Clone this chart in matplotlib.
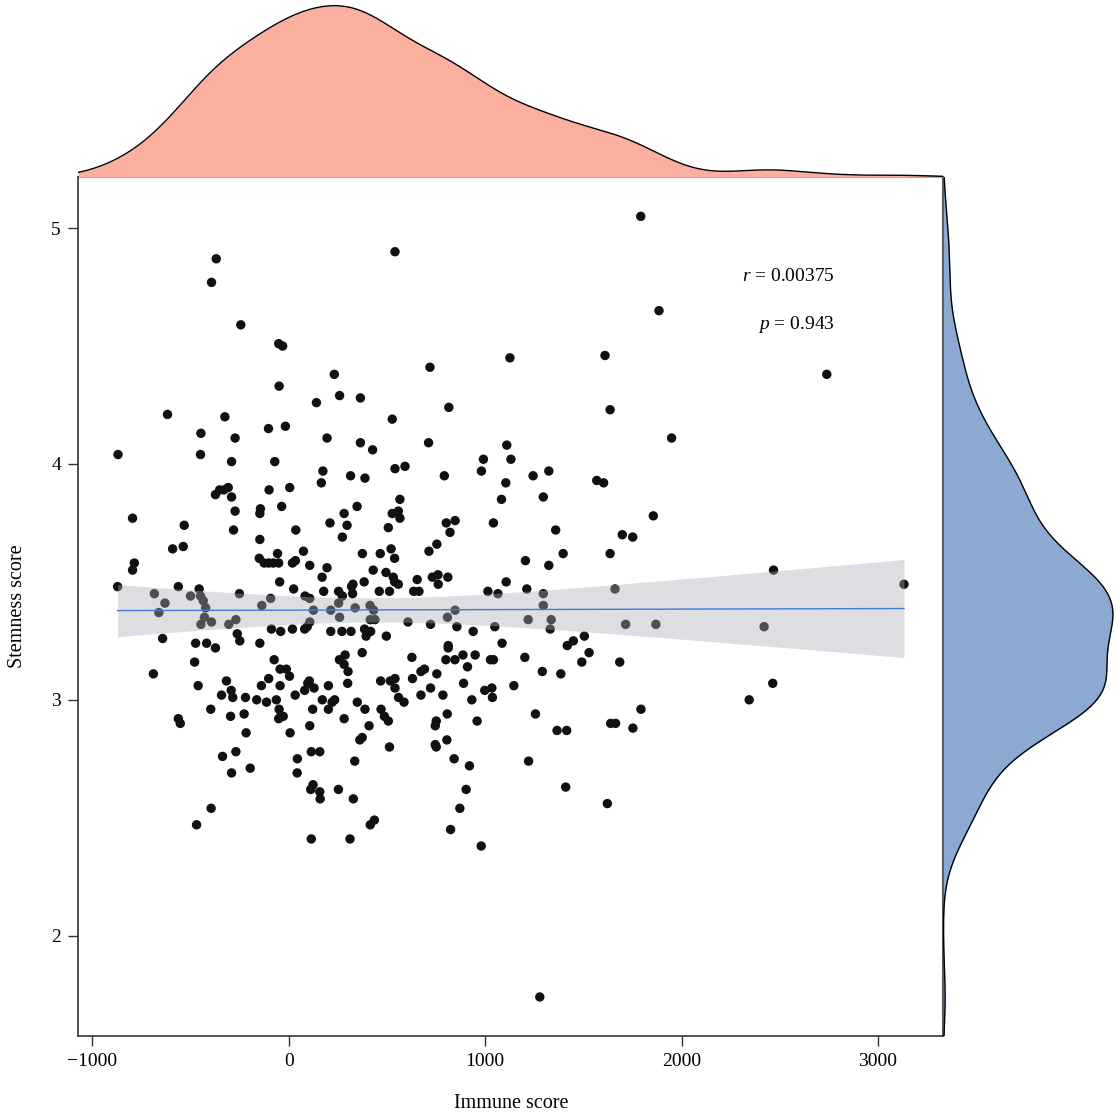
import numpy as np
import matplotlib
matplotlib.use("Agg")
import matplotlib.pyplot as plt

# ---- data ----
immune_score = [
    -369, -393, -244, -51, -31, 232, -49, 141, 259, 365,
    -617, -325, -447, -273, -103, -17, 195, 365, -869, -449,
    -291, -71, 174, 541, 1792, 1885, 1126, 1610, 719, 815,
    527, 1636, 427, 712, 1110, 991, 1131, 541, 592, 981,
    1324, 2739, 1949, 315, 388, 166, -373, -352, -330, -308,
    -291, -100, 5, -273, -144, -147, -36, 282, 348, 210,
    297, -795, -532, -281, 36, 273, -147, -591, -537, 75,
    375, -786, -795, -150, -125, -102, -79, -57, -51, 19,
    34, 107, 195, 430, -46, 170, 327, 320, 384, -871,
    -562, -456, 25, 178, 254, 273, 325, -684, -500, -449,
    -435, -251, -92, -137, 83, 107, -423, -630, -661, 126,
    214, 254, 338, 414, -429, -393, -447, -305, -269, 259,
    415, 107, 94, -88, -41, 19, 81, 214, 271, 317,
    386, 394, 417, -642, -262, -249, -474, -418, -373, -147,
    374, -479, -74, 287, 258, 282, 302, -689, -44, -12,
    4, -102, -317, -461, -139, -44, 105, 97, 129, 81,
    202, 300, -293, -285, -342, -220, -163, -113, -63, 33,
    171, 234, 221, 202, 349, -49, -41, -28, -51, -397,
    -227, -296, 122, 388, 282, -562, -552, 107, 409, 7,
    -217, 374, 362, -269, -337, 44, 115, 158, 336, -291,
    -196, 43, 124, 112, 158, 160, 253, 329, -395, -469,
    415, 436, 115, 312, 792, 1105, 1244, 1568, 1603, 566,
    527, 558, 566, 507, 1083, 1296, 802, 847, 821, 1042,
    1359, 1856, 1698, 1751, 466, 521, 539, 714, 754, 1205,
    1324, 1397, 1636, 495, 532, 539, 558, 654, 731, 760,
    761, 810, 1107, 461, 513, 636, 663, 1014, 1065, 1212,
    1296, 1296, 1661, 432, 847, 808, 439, 607, 722, 856,
    939, 1049, 1219, 1336, 1331, 1715, 1869, 497, 812, 812,
    1086, 1418, 1449, 1505, 1529, 627, 800, 846, 887, 949,
    1027, 1042, 1202, 910, 1492, 1685, 673, 691, 754, 1291,
    1385, 468, 517, 541, 541, 559, 587, 630, 890, 1146,
    722, 673, 785, 998, 1034, 1037, 932, 470, 487, 507,
    807, 1256, 1793, 751, 746, 959, 1639, 1664, 1752, 1366,
    1415, 513, 746, 751, 805, 842, 1221, 920, 903, 1410,
    1622, 871, 824, 980, 1278, 2468, 3132, 2420, 2464, 2344,
]
stemness_score = [
    4.87, 4.77, 4.59, 4.51, 4.50, 4.38, 4.33, 4.26, 4.29, 4.28,
    4.21, 4.20, 4.13, 4.11, 4.15, 4.16, 4.11, 4.09, 4.04, 4.04,
    4.01, 4.01, 3.97, 4.90, 5.05, 4.65, 4.45, 4.46, 4.41, 4.24,
    4.19, 4.23, 4.06, 4.09, 4.08, 4.02, 4.02, 3.98, 3.99, 3.97,
    3.97, 4.38, 4.11, 3.95, 3.94, 3.92, 3.87, 3.89, 3.89, 3.90,
    3.86, 3.89, 3.90, 3.80, 3.81, 3.79, 3.82, 3.79, 3.82, 3.75,
    3.74, 3.77, 3.74, 3.72, 3.72, 3.69, 3.68, 3.64, 3.65, 3.63,
    3.62, 3.58, 3.55, 3.60, 3.58, 3.58, 3.58, 3.62, 3.58, 3.58,
    3.59, 3.57, 3.56, 3.55, 3.50, 3.52, 3.49, 3.48, 3.50, 3.48,
    3.48, 3.47, 3.47, 3.46, 3.46, 3.44, 3.45, 3.45, 3.44, 3.44,
    3.42, 3.45, 3.43, 3.40, 3.44, 3.43, 3.39, 3.41, 3.37, 3.38,
    3.38, 3.41, 3.39, 3.40, 3.35, 3.33, 3.32, 3.32, 3.34, 3.35,
    3.34, 3.33, 3.31, 3.30, 3.29, 3.30, 3.30, 3.29, 3.29, 3.29,
    3.30, 3.27, 3.29, 3.26, 3.28, 3.25, 3.24, 3.24, 3.22, 3.24,
    3.20, 3.16, 3.17, 3.19, 3.17, 3.15, 3.12, 3.11, 3.13, 3.13,
    3.10, 3.09, 3.08, 3.06, 3.06, 3.06, 3.08, 3.07, 3.05, 3.04,
    3.06, 3.07, 3.04, 3.01, 3.02, 3.01, 3.00, 2.99, 3.00, 3.02,
    3.00, 3.00, 2.99, 2.96, 2.99, 2.96, 2.93, 2.93, 2.92, 2.96,
    2.94, 2.93, 2.96, 2.96, 2.92, 2.92, 2.90, 2.89, 2.89, 2.86,
    2.86, 2.84, 2.83, 2.78, 2.76, 2.75, 2.78, 2.78, 2.74, 2.69,
    2.71, 2.69, 2.64, 2.62, 2.61, 2.58, 2.62, 2.58, 2.54, 2.47,
    2.47, 2.49, 2.41, 2.41, 3.95, 3.92, 3.95, 3.93, 3.92, 3.85,
    3.79, 3.80, 3.77, 3.73, 3.85, 3.86, 3.75, 3.76, 3.71, 3.75,
    3.72, 3.78, 3.70, 3.69, 3.62, 3.64, 3.60, 3.63, 3.66, 3.59,
    3.57, 3.62, 3.62, 3.54, 3.52, 3.50, 3.49, 3.51, 3.52, 3.53,
    3.49, 3.52, 3.50, 3.46, 3.46, 3.46, 3.46, 3.46, 3.45, 3.47,
    3.45, 3.40, 3.47, 3.38, 3.38, 3.35, 3.34, 3.33, 3.32, 3.31,
    3.29, 3.31, 3.34, 3.34, 3.30, 3.32, 3.32, 3.27, 3.23, 3.22,
    3.24, 3.23, 3.25, 3.27, 3.20, 3.18, 3.17, 3.17, 3.19, 3.19,
    3.17, 3.17, 3.18, 3.14, 3.16, 3.16, 3.12, 3.13, 3.11, 3.12,
    3.11, 3.08, 3.08, 3.09, 3.05, 3.01, 2.99, 3.09, 3.07, 3.06,
    3.05, 3.02, 3.02, 3.04, 3.05, 3.01, 3.00, 2.96, 2.93, 2.91,
    2.94, 2.94, 2.96, 2.91, 2.89, 2.91, 2.90, 2.90, 2.88, 2.87,
    2.87, 2.80, 2.81, 2.80, 2.83, 2.75, 2.74, 2.72, 2.62, 2.63,
    2.56, 2.54, 2.45, 2.38, 1.74, 3.55, 3.49, 3.31, 3.07, 3.00,
]
x_ticks = [-1000, 0, 1000, 2000, 3000]
y_ticks = [2, 3, 4, 5]
x_label = "Immune score"
y_label = "Stemness score"
r_text = "0.00375"
p_text = "0.943"

# ---- style ----
plt.rcParams["font.family"] = ["Liberation Serif", "DejaVu Serif"]
plt.rcParams["mathtext.fontset"] = "custom"
plt.rcParams["mathtext.it"] = "Liberation Serif:italic"
plt.rcParams["mathtext.rm"] = "Liberation Serif"

TOP_FILL = "#FDAF9F"
RIGHT_FILL = "#8BA9D1"
POINT_C = "#111111"
LINE_C = "#3B7DD8"
BAND_C = "#A9ADB5"
SPINE_C = "#333333"
FS_TICK = 14
FS_LABEL = 14.5

x = np.asarray(immune_score, float)
y = np.asarray(stemness_score, float)


def expand(v, f=0.05):
    lo, hi = v.min(), v.max()
    d = (hi - lo) * f
    return lo - d, hi + d


def nrd0(v):
    sd = v.std(ddof=1)
    iqr = np.subtract(*np.percentile(v, [75, 25]))
    return 0.9 * min(sd, iqr / 1.34) * len(v) ** (-0.2)


def kde(v, grid):
    bw = nrd0(v)
    z = (grid[:, None] - v[None, :]) / bw
    return np.exp(-0.5 * z * z).sum(1) / (len(v) * bw * np.sqrt(2 * np.pi))


xlim = expand(x)
ylim = expand(y)

W, H = 1117, 1119
fig = plt.figure(figsize=(W / 100, H / 100), dpi=100)

L, R = 78.3, 943.3
T, B = 177.3, 1036.0
ax = fig.add_axes([L / W, 1 - B / H, (R - L) / W, (B - T) / H])
ax_top = fig.add_axes([L / W, 1 - T / H, (R - L) / W, T / H])
ax_right = fig.add_axes([R / W, 1 - B / H, (W - R) / W, (B - T) / H])

# scatter
ax.scatter(x, y, s=46, color=POINT_C, edgecolors="none", zorder=2)

# linear fit with 95% CI
n = len(x)
xm, ym = x.mean(), y.mean()
sxx = ((x - xm) ** 2).sum()
b1 = ((x - xm) * (y - ym)).sum() / sxx
b0 = ym - b1 * xm
resid = y - (b0 + b1 * x)
s = np.sqrt((resid ** 2).sum() / (n - 2))
z = 1.959964
df = n - 2
tq = z + (z ** 3 + z) / (4 * df) + (5 * z ** 5 + 16 * z ** 3 + 3 * z) / (96 * df ** 2)
xs = np.linspace(x.min(), x.max(), 200)
fit = b0 + b1 * xs
se = s * np.sqrt(1 / n + (xs - xm) ** 2 / sxx)
ax.fill_between(xs, fit - tq * se, fit + tq * se, color=BAND_C, alpha=0.4,
                linewidth=0, zorder=3)
ax.plot(xs, fit, color=LINE_C, lw=1.0, zorder=4)

ax.set_xlim(xlim)
ax.set_ylim(ylim)
ax.set_xticks(x_ticks)
ax.set_yticks(y_ticks)
ax.set_xticklabels(["\u22121000" if t < 0 else str(t) for t in x_ticks])
ax.tick_params(direction="out", length=7.5, width=1, color=SPINE_C,
               labelsize=FS_TICK, labelcolor="black", pad=5)
for sp in ax.spines.values():
    sp.set_color(SPINE_C)
    sp.set_linewidth(1.2)
ax.set_xlabel(x_label, fontsize=FS_LABEL, labelpad=17)
ax.set_ylabel(y_label, fontsize=FS_LABEL, labelpad=17)

ax.text(0.875, 0.885, r"$r$ = " + r_text, transform=ax.transAxes,
        ha="right", va="center", fontsize=FS_TICK)
ax.text(0.875, 0.829, r"$p$ = " + p_text, transform=ax.transAxes,
        ha="right", va="center", fontsize=FS_TICK)

# top marginal density
gx = np.linspace(xlim[0], xlim[1], 512)
dx = kde(x, gx)
ax_top.fill_between(gx, 0, dx, color=TOP_FILL, linewidth=0)
ax_top.plot(gx, dx, color="black", lw=1.0)
ax_top.set_xlim(xlim)
ax_top.set_ylim(0, dx.max() * 1.033)
ax_top.axis("off")

# right marginal density
gy = np.linspace(ylim[0], ylim[1], 512)
dy = kde(y, gy)
ax_right.fill_betweenx(gy, 0, dy, color=RIGHT_FILL, linewidth=0)
ax_right.plot(dy, gy, color="black", lw=1.0)
ax_right.set_ylim(ylim)
ax_right.set_xlim(0, dy.max() * 1.024)
ax_right.axis("off")

fig.savefig("out.png", dpi=100)
